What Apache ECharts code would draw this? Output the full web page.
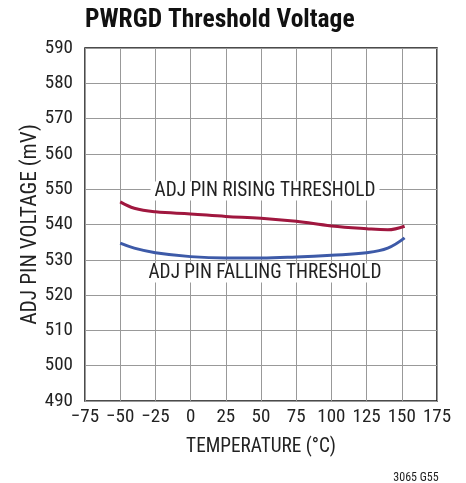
<!DOCTYPE html>
<html><head><meta charset="utf-8">
<script src="https://cdn.jsdelivr.net/npm/echarts@6/dist/echarts.min.js"></script>
<style>html,body{margin:0;padding:0;background:#fff}#c{width:466px;height:483px}</style>
</head><body><div id="c"></div>
<script>
var FONT = '"Roboto Condensed",Roboto,sans-serif';
var xTicks = [-75,-50,-25,0,25,50,75,100,125,150,175];
var yTicks = [490,500,510,520,530,540,550,560,570,580,590];
var risingTemp = [-50,-40,-25,0,25,50,75,100,125,140,152];
var risingMv   = [546.4,544.6,543.6,543.0,542.3,541.8,540.9,539.6,538.8,538.5,539.5];
var fallingTemp = [-50,-40,-25,0,25,50,75,100,125,140,152];
var fallingMv   = [534.7,533.3,532.0,530.9,530.5,530.5,530.8,531.3,532.0,533.3,536.2];
function pairs(a,b){return a.map(function(v,i){return [v,b[i]];});}
var chart = echarts.init(document.getElementById('c'));
chart.setOption({
  animation:false,
  title:{text:'PWRGD Threshold Voltage',left:80,top:3,textStyle:{fontFamily:FONT,fontWeight:'bold',fontSize:25.5,color:'#111'}},
  grid:{left:85,right:29,top:48,bottom:82,show:true,borderColor:'#111',borderWidth:1.5,backgroundColor:'transparent'},
  xAxis:{type:'value',min:-75,max:175,interval:25,
    name:'TEMPERATURE (°C)',nameLocation:'middle',nameGap:37,nameMoveOverlap:false,
    nameTextStyle:{fontFamily:FONT,fontSize:19.3,color:'#222'},
    axisLine:{show:false},axisTick:{show:false},
    axisLabel:{fontFamily:FONT,fontSize:19,color:'#222',margin:7,formatter:function(v){return String(v).replace('-','\u2212');}},
    splitLine:{show:true,lineStyle:{color:'#999',width:1}}},
  yAxis:{type:'value',min:490,max:590,interval:10,
    name:'ADJ PIN VOLTAGE (mV)',nameLocation:'middle',nameGap:54,nameMoveOverlap:false,
    nameTextStyle:{fontFamily:FONT,fontSize:21.5,color:'#222',verticalAlign:'middle'},
    axisLine:{show:false},axisTick:{show:false},
    axisLabel:{fontFamily:FONT,fontSize:19,color:'#222',margin:12},
    splitLine:{show:true,lineStyle:{color:'#999',width:1}}},
  graphic:[
    {type:'text',z:100,x:265,y:191,style:{text:'ADJ PIN RISING THRESHOLD',fontFamily:FONT,fontSize:19.3,fill:'#222',align:'center',verticalAlign:'middle',backgroundColor:'#fff',padding:[0,4]}},
    {type:'text',z:100,x:265,y:273,style:{text:'ADJ PIN FALLING THRESHOLD',fontFamily:FONT,fontSize:19.3,fill:'#222',align:'center',verticalAlign:'middle',backgroundColor:'#fff',padding:[0,4]}},
    {type:'text',z:100,x:416,y:478,style:{text:'3065 G55',fontFamily:FONT,fontSize:12,fill:'#222',align:'center',verticalAlign:'middle'}}
  ],
  series:[
    {type:'line',data:pairs(risingTemp,risingMv),smooth:0.4,showSymbol:false,lineStyle:{color:'#a0173f',width:3},z:5},
    {type:'line',data:pairs(fallingTemp,fallingMv),smooth:0.4,showSymbol:false,lineStyle:{color:'#3d5aa8',width:3},z:5}
  ]
});
</script></body></html>
